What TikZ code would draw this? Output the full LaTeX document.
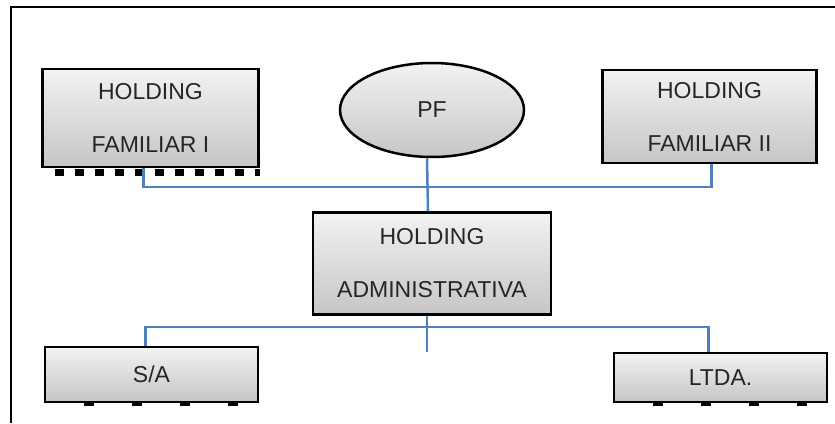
\documentclass[tikz,border=0pt]{standalone}
\usepackage{fontspec}
\setmainfont{Liberation Sans}
\usetikzlibrary{shapes.geometric,positioning}

\definecolor{linkblue}{HTML}{4F81BD}

\tikzset{
  entity/.style={draw=black, line width=2.5pt, rectangle, top color=gray!10,
    bottom color=gray!45, align=center, text=black!85, inner sep=0pt,
    font=\fontsize{23}{53}\selectfont},
  person/.style={draw=black, line width=2.5pt, ellipse, top color=gray!10,
    bottom color=gray!45, text=black!85, inner sep=0pt,
    minimum width=184pt, minimum height=94pt, font=\fontsize{23}{26}\selectfont},
  link/.style={draw=linkblue, line width=2.5pt},
  teeth/.style={line width=7pt, dash pattern=on 9pt off 11pt},
  ticks/.style={line width=2.5pt, dash pattern=on 10pt off 38pt}
}

\begin{document}
\begin{tikzpicture}[x=1pt, y=-1pt]

  \useasboundingbox (0,0) rectangle (835,423);

  % Frame
  \draw[line width=2.5pt] (835,7) -- (11,7) -- (11,423);

  % Nodes

  \node[person] (pf) at (432,110) {PF};
  \node[entity, minimum width=216pt, minimum height=98pt, left=79pt of pf, yshift=-8pt] (fam1) {HOLDING\\FAMILIAR I};
  \node[entity, minimum width=214pt, minimum height=93pt, right=76pt of pf, yshift=-6.5pt] (fam2) {HOLDING\\FAMILIAR II};
  \node[entity, minimum width=238pt, minimum height=102pt, below=53pt of pf] (admin) {HOLDING\\ADMINISTRATIVA};
  \node[entity, minimum width=213pt, minimum height=55pt] (sa) at (151.5,374.5) {S/A};
  \node[entity, minimum width=213pt, minimum height=49pt] (ltda) at (720.5,377.5) {LTDA.};

  % Shadow teeth

  \draw[teeth] ([yshift=-4pt, xshift=14pt]fam1.south west) -- ([yshift=-4pt]fam1.south east);
  \draw[ticks] ([yshift=-1pt, xshift=40pt]sa.south west) -- ([yshift=-1pt]sa.south east);
  \draw[ticks] ([yshift=-1pt, xshift=40pt]ltda.south west) -- ([yshift=-1pt]ltda.south east);

  % Edges

  \coordinate (topbus) at (427,187);
  \coordinate (lowbus) at (427,327);
  \coordinate (stub) at (427,352);

  \draw[link] ([xshift=-7pt]fam1.south) |- (topbus) -| ([xshift=2pt]fam2.south);
  \draw[link] ([xshift=-5pt]pf.south) -- ([xshift=-4pt]admin.north);
  \draw[link] (admin.south -| stub) -- (stub);
  \draw[link] ([xshift=-6pt]sa.north) |- (lowbus) -| ([xshift=-12pt]ltda.north);

\end{tikzpicture}
\end{document}
